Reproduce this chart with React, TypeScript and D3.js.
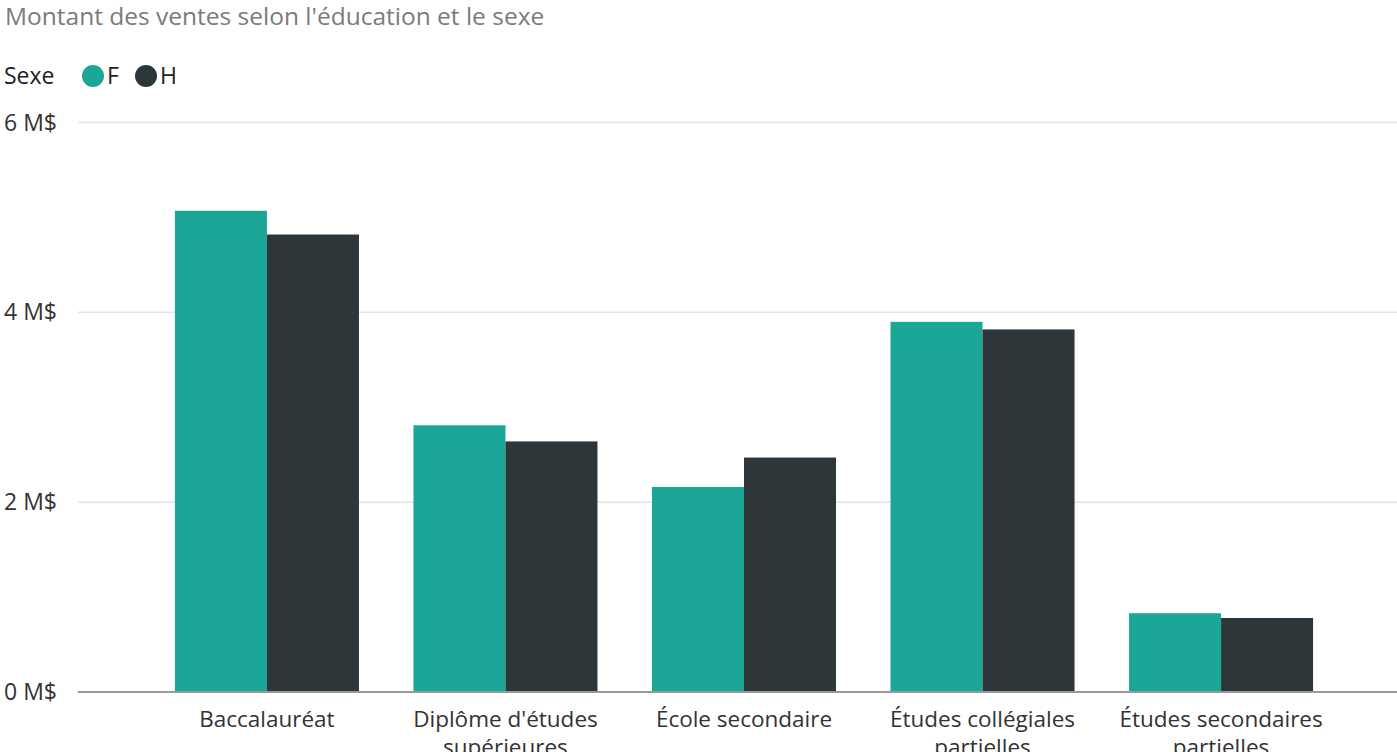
import { useEffect, useRef } from "react"
import * as d3 from "d3"

// Données (en millions de $)
const categories = [
  "Baccalauréat",
  "Diplôme d'études supérieures",
  "École secondaire",
  "Études collégiales partielles",
  "Études secondaires partielles",
]
const categoryLines = [
  ["Baccalauréat"],
  ["Diplôme d'études", "supérieures"],
  ["École secondaire"],
  ["Études collégiales", "partielles"],
  ["Études secondaires", "partielles"],
]
const series = ["F", "H"]
const valuesF = [5.07, 2.81, 2.16, 3.9, 0.83]
const valuesH = [4.82, 2.64, 2.47, 3.82, 0.78]
const yTicks = [0, 2, 4, 6]

const W = 1397
const H = 752
const FONT = "'Open Sans', 'Noto Sans', sans-serif"

export default function App() {
  const svgRef = useRef<SVGSVGElement>(null)

  useEffect(() => {
    if (!svgRef.current) return
    const svg = d3.select(svgRef.current)
    svg.selectAll("*").remove()

    const colors = d3.scaleOrdinal<string, string>().domain(series).range(["#1ba797", "#2d3739"])

    const x0 = d3.scaleBand<string>().domain(categories).range([90, 1398]).paddingInner(0.2285).paddingOuter(0.356)
    const x1 = d3.scaleBand<string>().domain(series).range([0, x0.bandwidth()])
    const y = d3.scaleLinear().domain([0, 6]).range([692, 122.5])

    // Titre
    svg
      .append("text")
      .attr("x", 5)
      .attr("y", 25)
      .attr("font-size", 24.5)
      .attr("fill", "#7b7b7b")
      .text("Montant des ventes selon l'éducation et le sexe")

    // Légende
    const legend = svg.append("g").attr("font-size", 23).attr("fill", "#222")
    legend.append("text").attr("x", 4).attr("y", 84).text("Sexe")
    const legendX = [93, 146]
    series.forEach((s, i) => {
      legend.append("circle").attr("cx", legendX[i]).attr("cy", 76).attr("r", 11).attr("fill", colors(s))
      legend
        .append("text")
        .attr("x", legendX[i] + 14)
        .attr("y", 84)
        .text(s)
    })

    // Grille
    svg
      .append("g")
      .selectAll("line")
      .data(yTicks.filter((t) => t > 0))
      .enter()
      .append("line")
      .attr("x1", 78)
      .attr("x2", W)
      .attr("y1", (d) => y(d))
      .attr("y2", (d) => y(d))
      .attr("stroke", "#e3e3e3")
      .attr("stroke-width", 1.5)

    // Étiquettes de l'axe Y
    svg
      .append("g")
      .selectAll("text")
      .data(yTicks)
      .enter()
      .append("text")
      .attr("x", 4)
      .attr("y", (d) => y(d) + 8)
      .attr("font-size", 23)
      .attr("fill", "#333")
      .text((d) => `${d} M$`)

    // Barres
    const groups = svg
      .append("g")
      .selectAll("g")
      .data(categories)
      .enter()
      .append("g")
      .attr("transform", (d) => `translate(${x0(d)},0)`)

    groups
      .selectAll("rect")
      .data((d, i) => [
        { key: "F", value: valuesF[i] },
        { key: "H", value: valuesH[i] },
      ])
      .enter()
      .append("rect")
      .attr("x", (d) => x1(d.key) || 0)
      .attr("width", x1.bandwidth())
      .attr("y", (d) => y(d.value))
      .attr("height", (d) => y(0) - y(d.value))
      .attr("fill", (d) => colors(d.key))

    // Ligne de base
    svg
      .append("line")
      .attr("x1", 78)
      .attr("x2", W)
      .attr("y1", y(0))
      .attr("y2", y(0))
      .attr("stroke", "#999")
      .attr("stroke-width", 2)

    // Étiquettes de l'axe X
    categories.forEach((c, i) => {
      const cx = (x0(c) || 0) + x0.bandwidth() / 2
      const t = svg
        .append("text")
        .attr("text-anchor", "middle")
        .attr("font-size", 22.5)
        .attr("fill", "#333")
        .attr("x", cx)
        .attr("y", 727)
      categoryLines[i].forEach((line, j) => {
        t.append("tspan")
          .attr("x", cx)
          .attr("dy", j === 0 ? 0 : 28)
          .text(line)
      })
    })
  }, [])

  return (
    <svg
      ref={svgRef}
      width={W}
      height={H}
      style={{ position: "fixed", left: 0, top: 0, background: "#fff", fontFamily: FONT }}
    />
  )
}
